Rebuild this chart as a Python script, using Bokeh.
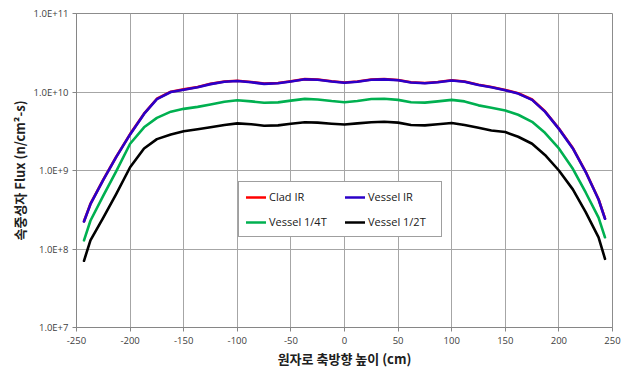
from bokeh.plotting import figure
from bokeh.models import Range1d, FixedTicker, CustomJSTickFormatter, Legend, LegendItem
from bokeh.embed import file_html
from bokeh.resources import INLINE

# axial height (cm)
height_cm = [-243, -237, -225, -213, -200, -187, -175, -162, -150, -137, -125, -112, -100,
             -87, -75, -62, -50, -37, -25, -12, 0, 12, 25, 37, 50, 62, 75, 87, 100,
             112, 125, 137, 150, 162, 175, 187, 200, 213, 225, 237, 243]

clad_ir = [2.26e8, 3.75e8, 7.67e8, 1.49e9, 2.91e9, 5.30e9, 8.21e9, 1.01e10, 1.08e10, 1.16e10,
           1.27e10, 1.36e10, 1.39e10, 1.34e10, 1.28e10, 1.30e10, 1.37e10, 1.46e10, 1.44e10,
           1.37e10, 1.32e10, 1.36e10, 1.44e10, 1.46e10, 1.42e10, 1.33e10, 1.30e10, 1.34e10,
           1.41e10, 1.36e10, 1.24e10, 1.16e10, 1.06e10, 9.64e9, 8.02e9, 5.68e9, 3.42e9,
           1.93e9, 9.64e8, 4.31e8, 2.45e8]

vessel_ir = [2.24e8, 3.72e8, 7.60e8, 1.48e9, 2.88e9, 5.25e9, 8.13e9, 1.00e10, 1.07e10, 1.15e10,
             1.26e10, 1.35e10, 1.38e10, 1.33e10, 1.27e10, 1.29e10, 1.36e10, 1.45e10, 1.43e10,
             1.36e10, 1.31e10, 1.35e10, 1.43e10, 1.45e10, 1.41e10, 1.32e10, 1.29e10, 1.33e10,
             1.40e10, 1.35e10, 1.23e10, 1.15e10, 1.05e10, 9.55e9, 7.94e9, 5.62e9, 3.39e9,
             1.91e9, 9.55e8, 4.27e8, 2.43e8]

vessel_14t = [1.29e8, 2.29e8, 4.79e8, 9.77e8, 2.19e9, 3.55e9, 4.68e9, 5.62e9, 6.10e9, 6.46e9,
              6.92e9, 7.50e9, 7.85e9, 7.59e9, 7.28e9, 7.38e9, 7.76e9, 8.17e9, 8.04e9,
              7.67e9, 7.41e9, 7.67e9, 8.13e9, 8.22e9, 7.94e9, 7.41e9, 7.33e9, 7.59e9,
              7.94e9, 7.59e9, 6.76e9, 6.31e9, 5.82e9, 5.13e9, 4.17e9, 3.02e9, 1.91e9,
              1.05e9, 5.25e8, 2.51e8, 1.41e8]

vessel_12t = [7.08e7, 1.29e8, 2.51e8, 5.01e8, 1.10e9, 1.91e9, 2.51e9, 2.88e9, 3.16e9, 3.35e9,
              3.55e9, 3.80e9, 3.98e9, 3.89e9, 3.72e9, 3.76e9, 3.94e9, 4.12e9, 4.07e9,
              3.94e9, 3.85e9, 3.98e9, 4.12e9, 4.17e9, 4.07e9, 3.80e9, 3.76e9, 3.89e9,
              4.03e9, 3.80e9, 3.51e9, 3.24e9, 3.09e9, 2.69e9, 2.19e9, 1.58e9, 1.00e9,
              5.75e8, 2.95e8, 1.41e8, 7.50e7]

series_names = ["Clad IR", "Vessel IR", "Vessel 1/4T", "Vessel 1/2T"]
series_colors = ["#ff0000", "#2b00c8", "#00b050", "#000000"]

x_ticks = [-250, -200, -150, -100, -50, 0, 50, 100, 150, 200, 250]
y_ticks = [1e7, 1e8, 1e9, 1e10, 1e11]

p = figure(width=628, height=370, output_backend="svg", toolbar_location=None,
           y_axis_type="log", x_range=Range1d(-250, 250), y_range=Range1d(1e7, 1e11),
           min_border_left=76, min_border_right=16, min_border_top=13, min_border_bottom=43)
p.background_fill_color = "white"
p.border_fill_color = "white"
p.outline_line_color = "#8c8c8c"
p.outline_line_width = 1

renderers = []
for name, ys, c in zip(series_names, [clad_ir, vessel_ir, vessel_14t, vessel_12t], series_colors):
    r = p.line(height_cm, ys, line_color=c, line_width=2.6, line_join="round", line_cap="round")
    renderers.append(r)

p.xaxis.ticker = FixedTicker(ticks=x_ticks, minor_ticks=[])
p.yaxis.ticker = FixedTicker(ticks=y_ticks, minor_ticks=[])
p.yaxis.formatter = CustomJSTickFormatter(code="return tick.toExponential(1).toUpperCase();")
p.xaxis.formatter = CustomJSTickFormatter(code="return String(Math.round(tick));")

for ax in (p.xaxis[0], p.yaxis[0]):
    ax.axis_line_color = "#868686"
    ax.major_tick_line_color = "#868686"
    ax.minor_tick_line_color = None
    ax.major_tick_in = 0
    ax.major_tick_out = 4
    ax.major_label_text_font = "Open Sans"
    ax.major_label_text_font_size = "9.5px"
    ax.major_label_text_color = "#404040"
    ax.axis_label_text_font = "Noto Sans CJK KR"
    ax.axis_label_text_font_size = "13px"
    ax.axis_label_text_font_style = "bold"
    ax.axis_label_text_color = "#202020"

p.xaxis.axis_label = "원자로 축방향 높이 (cm)"
p.yaxis.axis_label = "속중성자 Flux (n/cm²-s)"
p.xaxis.major_label_standoff = 5
p.xaxis.axis_label_standoff = 2
p.yaxis.major_label_standoff = 4
p.yaxis.axis_label_standoff = 2

p.xgrid.grid_line_color = "#a6a6a6"
p.ygrid.grid_line_color = "#a6a6a6"
p.xgrid.grid_line_width = 1
p.ygrid.grid_line_width = 1

legend = Legend(items=[LegendItem(label=n, renderers=[r]) for n, r in zip(series_names, renderers)],
                location=(162, 90), ncols=2, orientation="horizontal",
                label_text_font="Open Sans", label_text_font_size="11px",
                label_text_color="#202020", glyph_width=20, glyph_height=10,
                label_standoff=3, spacing=10, padding=7, margin=0,
                border_line_color="#404040", border_line_width=1,
                background_fill_color="white", background_fill_alpha=1.0,
                label_width=66, label_height=14)
p.add_layout(legend, "center")

open("out.html", "w").write(file_html(p, INLINE))
